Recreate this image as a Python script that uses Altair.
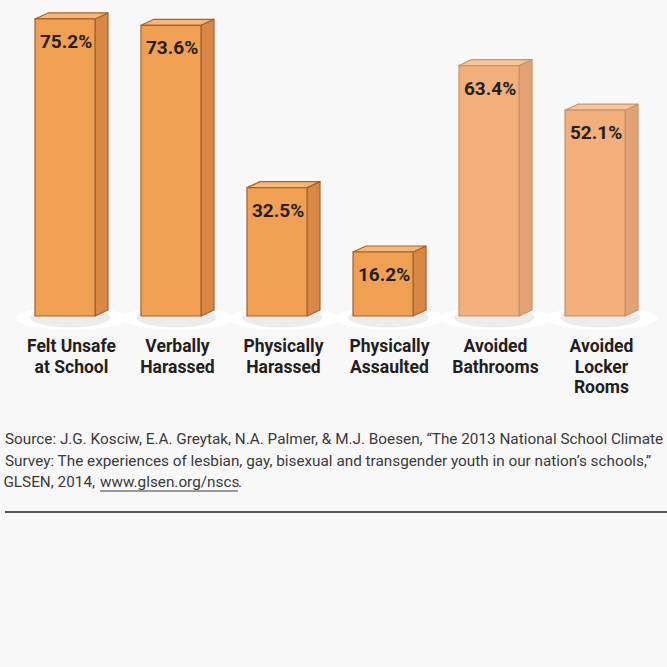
import altair as alt
import pandas as pd

# ---- data ----
categories = ["Felt Unsafe\nat School", "Verbally\nHarassed", "Physically\nHarassed",
              "Physically\nAssaulted", "Avoided\nBathrooms", "Avoided\nLocker\nRooms"]
values = [75.2, 73.6, 32.5, 16.2, 63.4, 52.1]
groups = ["exp", "exp", "exp", "exp", "avoid", "avoid"]
value_labels = ["75.2%", "73.6%", "32.5%", "16.2%", "63.4%", "52.1%"]
source_lines = [
    "Source: J.G. Kosciw, E.A. Greytak, N.A. Palmer, & M.J. Boesen, \u201cThe 2013 National School Climate",
    "Survey: The experiences of lesbian, gay, bisexual and transgender youth in our nation\u2019s schools,\u201d",
]
source_tail = ["GLSEN, 2014,", "www.glsen.org/nscs", "."]

# ---- geometry (in data units) ----
HALF = 0.283      # half width of front face (category units)
DX = 0.1226       # depth offset x
DY = 1.52         # depth offset y (percentage units)

front_fill = {"exp": "#f0a052", "avoid": "#f1af7b"}
side_fill = {"exp": "#d98744", "avoid": "#e2a273"}
top_fill = {"exp": "#f6b878", "avoid": "#f7c69c"}
stroke_c = {"exp": "#a5622a", "avoid": "#c8926b"}

front_rows, side_rows, top_rows = [], [], []
for i, (v, g) in enumerate(zip(values, groups)):
    front_rows.append(dict(bar=i, fc=front_fill[g], sc=stroke_c[g], x=i - HALF, x2=i + HALF, y=0, y2=v))
    side_rows.append(dict(bar=i, fc=side_fill[g], sc=stroke_c[g], x=i + HALF, y=v, y2=0))
    side_rows.append(dict(bar=i, fc=side_fill[g], sc=stroke_c[g], x=i + HALF + DX, y=v + DY, y2=DY))
    top_rows.append(dict(bar=i, fc=top_fill[g], sc=stroke_c[g], y=v, x=i - HALF, x2=i + HALF))
    top_rows.append(dict(bar=i, fc=top_fill[g], sc=stroke_c[g], y=v + DY, x=i - HALF + DX, x2=i + HALF + DX))

front_df = pd.DataFrame(front_rows)
side_df = pd.DataFrame(side_rows)
top_df = pd.DataFrame(top_rows)
lab_df = pd.DataFrame(dict(bar=list(range(6)), v=values, lab=value_labels,
                           cat=categories, g=groups))

W, H = 667, 667
x_scale = alt.Scale(domain=[-65 / 106, (W - 65) / 106], range=[0, W], nice=False, zero=False)
y_scale = alt.Scale(domain=[(316 - H) / 3.95, 316 / 3.95], range=[H, 0], nice=False, zero=False)

X = lambda f="x": alt.X(f"{f}:Q", scale=x_scale, axis=None)
Y = lambda f="y": alt.Y(f"{f}:Q", scale=y_scale, axis=None)

FONT = "Roboto, Liberation Sans, sans-serif"

ell = "M-1,0A1,0.2,0,1,0,1,0A1,0.2,0,1,0,-1,0Z"
ell_s = "M-1,0A1,0.25,0,1,0,1,0A1,0.25,0,1,0,-1,0Z"

glow = alt.Chart(lab_df).mark_point(shape=ell, filled=True, fill="#ffffff", opacity=1,
                                    size=112 ** 2, strokeWidth=0).encode(
    x=alt.X("xc:Q", scale=x_scale, axis=None),
    y=alt.Y("yc:Q", scale=y_scale, axis=None),
).transform_calculate(xc="datum.bar + 0.06", yc="-0.6")

shadow = alt.Chart(lab_df).mark_point(shape=ell_s, filled=True, fill="#c8c8c8", opacity=0.35,
                                      size=80 ** 2, strokeWidth=0).encode(
    x=alt.X("xc:Q", scale=x_scale, axis=None),
    y=alt.Y("yc:Q", scale=y_scale, axis=None),
).transform_calculate(xc="datum.bar + 0.05", yc="-0.4")

front = alt.Chart(front_df).mark_rect(strokeWidth=1.2).encode(
    x=X("x"), x2="x2", y=Y("y"), y2="y2",
    fill=alt.Fill("fc:N", scale=None),
    stroke=alt.Stroke("sc:N", scale=None),
)

side = alt.Chart(side_df).mark_area(orient="vertical", strokeWidth=1.2, strokeJoin="round").encode(
    x=X("x"), y=Y("y"), y2="y2",
    detail="bar:N",
    fill=alt.Fill("fc:N", scale=None),
    stroke=alt.Stroke("sc:N", scale=None),
)

top = alt.Chart(top_df).mark_area(orient="horizontal", strokeWidth=1.2, strokeJoin="round").encode(
    y=Y("y"), x=X("x"), x2="x2",
    detail="bar:N",
    fill=alt.Fill("fc:N", scale=None),
    stroke=alt.Stroke("sc:N", scale=None),
)

vlabels = alt.Chart(lab_df).mark_text(
    font=FONT, fontWeight="bold", fontSize=19, color="#231f20",
    align="center", baseline="alphabetic", dy=29,
).encode(
    x=alt.X("xc:Q", scale=x_scale, axis=None),
    y=alt.Y("v:Q", scale=y_scale, axis=None),
    text="lab:N",
).transform_calculate(xc="datum.bar + 0.01")

clabels = alt.Chart(lab_df).mark_text(
    font=FONT, fontWeight="bold", fontSize=17.5, color="#231f20",
    align="center", baseline="alphabetic", lineBreak="\n", lineHeight=20.5,
).encode(
    x=alt.X("xc:Q", scale=x_scale, axis=None),
    y=alt.value(352),
    text="cat:N",
).transform_calculate(xc="datum.bar + 0.061")

src_df = pd.DataFrame(dict(t=["\n".join(source_lines)]))
source = alt.Chart(src_df).mark_text(
    font=FONT, fontSize=15.3, color="#3a3a3a",
    align="left", baseline="alphabetic", lineBreak="\n", lineHeight=21.5,
).encode(x=alt.value(5), y=alt.value(444), text="t:N")

tail_a = alt.Chart(src_df).mark_text(
    font=FONT, fontSize=15.3, color="#3a3a3a", align="right", baseline="alphabetic",
    text=source_tail[0]).encode(x=alt.value(95), y=alt.value(487))
tail_b = alt.Chart(src_df).mark_text(
    font=FONT, fontSize=15.3, color="#3a3a3a", align="left", baseline="alphabetic",
    text=source_tail[1]).encode(x=alt.value(100), y=alt.value(487))
tail_c = alt.Chart(src_df).mark_text(
    font=FONT, fontSize=15.3, color="#3a3a3a", align="left", baseline="alphabetic",
    text=source_tail[2]).encode(x=alt.value(238), y=alt.value(487))

underline = alt.Chart(src_df).mark_rule(color="#3a3a3a", strokeWidth=1).encode(
    x=alt.value(100), x2=alt.value(238), y=alt.value(491))
hr = alt.Chart(src_df).mark_rule(color="#222222", strokeWidth=1.5).encode(
    x=alt.value(5), x2=alt.value(667), y=alt.value(512))

chart = alt.layer(glow, shadow, side, top, front, vlabels, clabels, source,
                  tail_a, tail_b, tail_c, underline, hr).properties(
    width=W, height=H, autosize="none", padding=0, background="#f8f8f8",
).configure_view(stroke=None)

chart.save("out.html", embed_options={"renderer": "svg", "actions": False})
